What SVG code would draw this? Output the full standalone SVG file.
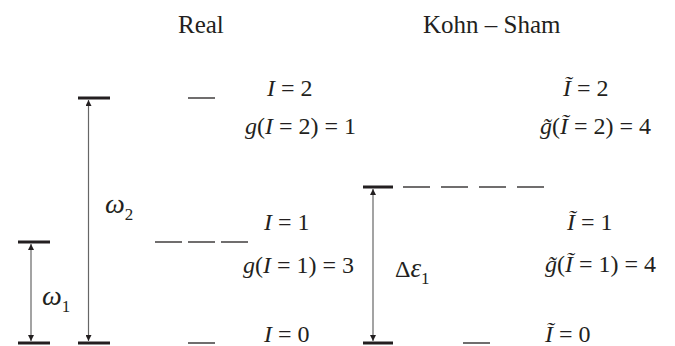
<svg xmlns="http://www.w3.org/2000/svg" width="675" height="346" viewBox="0 0 675 346">
<defs>
<style>
text{font-family:"Liberation Serif","Times New Roman",serif;font-size:24px;fill:#231f20}
.t{font-size:25px}
.i{font-style:italic}
.s{font-size:17px;font-style:normal}
.lvl{stroke:#231f20;stroke-width:3;fill:none}
.thin{stroke:#231f20;stroke-width:1.3;fill:none}
.arr{stroke:#666;stroke-width:1.2;fill:none;marker-start:url(#ah);marker-end:url(#ah)}
</style>
<marker id="ah" viewBox="0 0 10 10" refX="10" refY="5" markerWidth="7" markerHeight="6" markerUnits="userSpaceOnUse" orient="auto-start-reverse">
<path d="M0,0 L10,5 L0,10 z" fill="#231f20"/>
</marker>
</defs>
<g id="titles">
<text class="t" x="178" y="33">Real</text>
<text class="t" x="423" y="33">Kohn – Sham</text>
</g>
<g id="levels">
<line class="lvl" x1="18" y1="242" x2="50" y2="242"/>
<line class="lvl" x1="18" y1="343" x2="50" y2="343"/>
<line class="lvl" x1="78" y1="98" x2="110" y2="98"/>
<line class="lvl" x1="78" y1="343" x2="110" y2="343"/>
<line class="lvl" x1="363" y1="187" x2="393" y2="187"/>
<line class="lvl" x1="363" y1="343" x2="393" y2="343"/>
</g>
<g id="real-states">
<line class="thin" x1="188" y1="98" x2="215" y2="98"/>
<line class="thin" x1="155" y1="242" x2="182" y2="242"/>
<line class="thin" x1="188" y1="242" x2="215" y2="242"/>
<line class="thin" x1="221" y1="242" x2="248" y2="242"/>
<line class="thin" x1="188" y1="343" x2="215" y2="343"/>
</g>
<g id="ks-states">
<line class="thin" x1="403" y1="187" x2="430" y2="187"/>
<line class="thin" x1="441" y1="187" x2="468" y2="187"/>
<line class="thin" x1="479" y1="187" x2="506" y2="187"/>
<line class="thin" x1="517" y1="187" x2="544" y2="187"/>
<line class="thin" x1="463" y1="343" x2="490" y2="343"/>
</g>
<g id="connectors">
<line class="arr" x1="31" y1="244" x2="31" y2="341"/>
<line class="arr" x1="88.5" y1="100" x2="88.5" y2="341"/>
<line class="arr" x1="373" y1="189" x2="373" y2="341"/>
</g>
<g id="gap-labels">
<text x="105" y="213"><tspan class="i" font-size="28">ω</tspan><tspan class="s" dy="7">2</tspan></text>
<text x="42" y="305"><tspan class="i" font-size="28">ω</tspan><tspan class="s" dy="7">1</tspan></text>
<text x="395" y="277">Δ<tspan class="i" font-size="27">ε</tspan><tspan class="s" dy="7">1</tspan></text>
</g>
<g id="real-labels">
<text x="267" y="96"><tspan class="i">I</tspan> = 2</text>
<text x="245" y="134"><tspan class="i">g</tspan>(<tspan class="i">I</tspan> = 2) = 1</text>
<text x="264" y="230"><tspan class="i">I</tspan> = 1</text>
<text x="243" y="273"><tspan class="i">g</tspan>(<tspan class="i">I</tspan> = 1) = 3</text>
<text x="264" y="342"><tspan class="i">I</tspan> = 0</text>
</g>
<g id="ks-labels">
<text x="563" y="96"><tspan class="i">Ĩ</tspan> = 2</text>
<text x="540" y="134"><tspan class="i">g̃</tspan>(<tspan class="i">Ĩ</tspan> = 2) = 4</text>
<text x="567" y="230"><tspan class="i">Ĩ</tspan> = 1</text>
<text x="545" y="272"><tspan class="i">g̃</tspan>(<tspan class="i">Ĩ</tspan> = 1) = 4</text>
<text x="545" y="342"><tspan class="i">Ĩ</tspan> = 0</text>
</g>
</svg>
